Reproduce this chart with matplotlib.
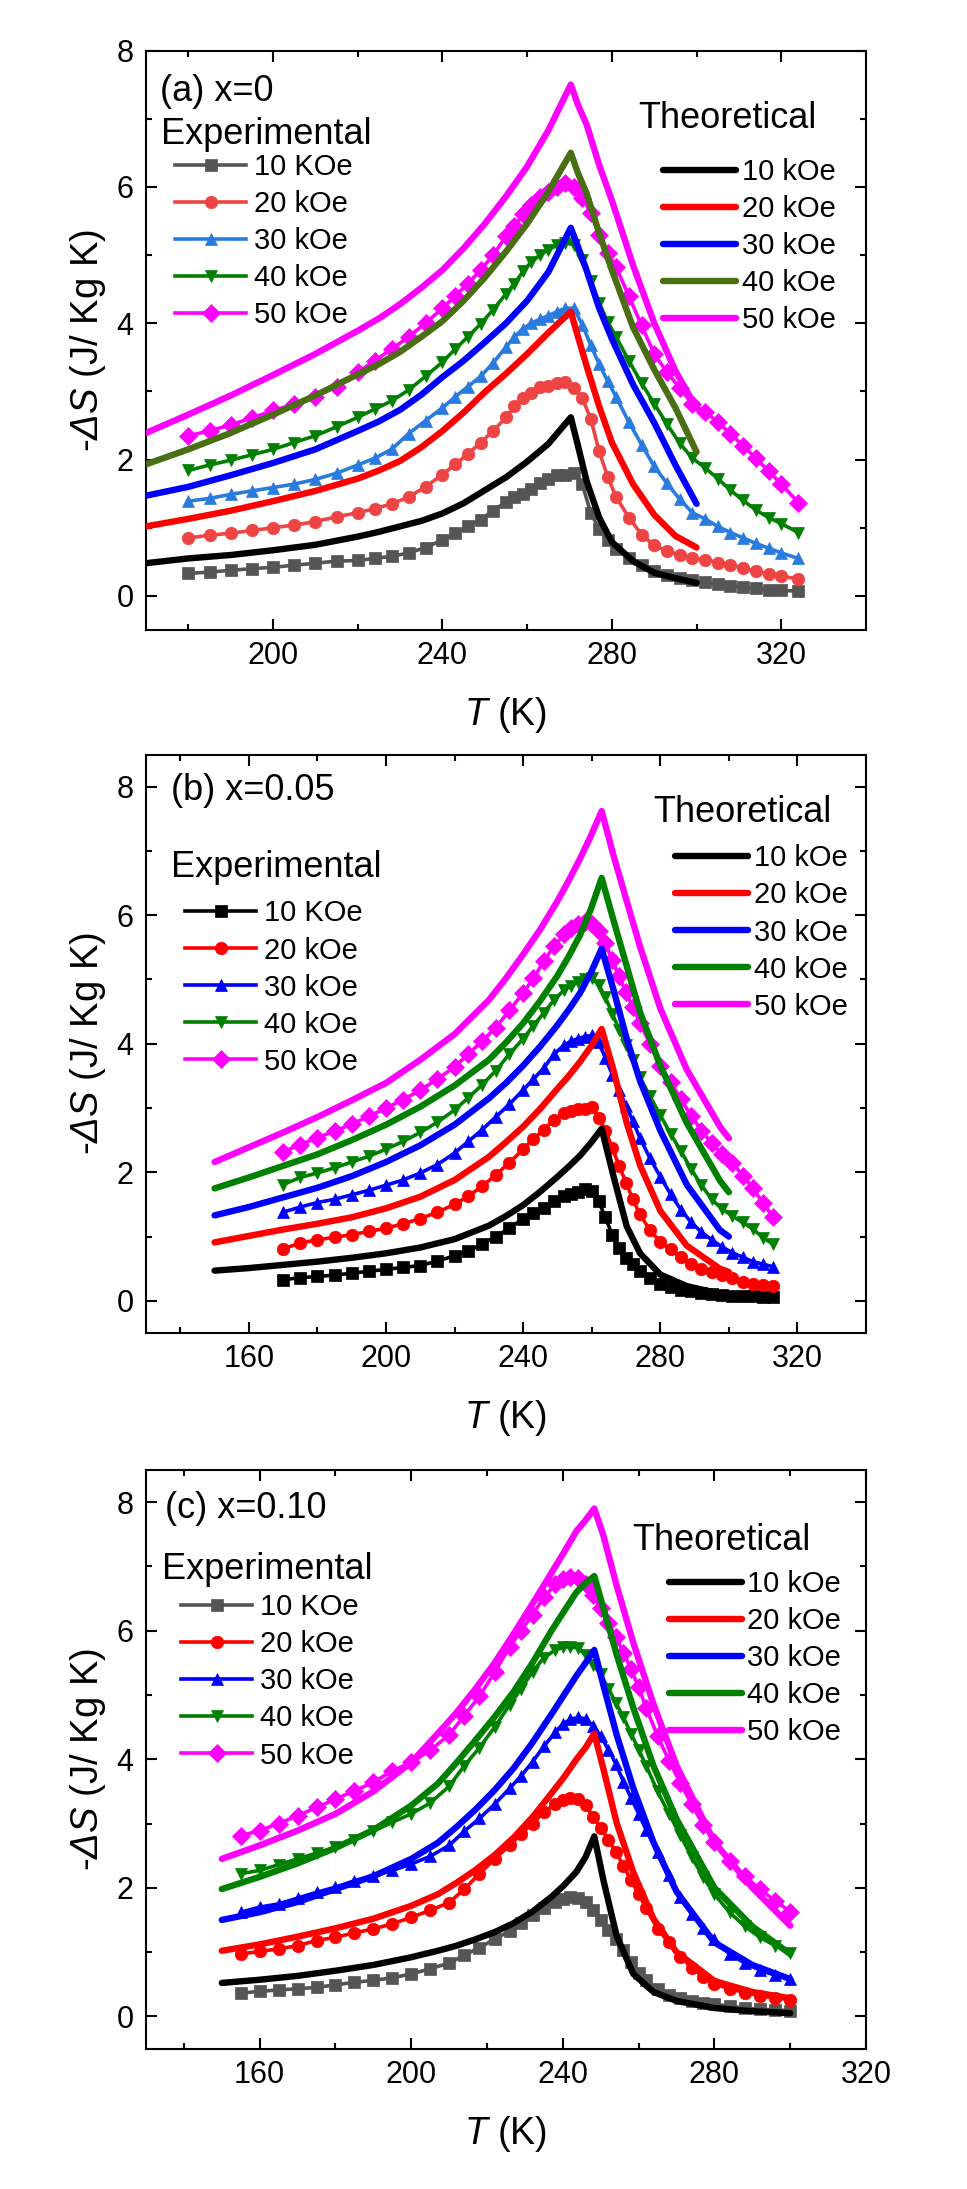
import matplotlib
matplotlib.use('Agg')
import matplotlib.pyplot as plt
from matplotlib.ticker import MultipleLocator

plt.rcParams['font.family'] = ['Liberation Sans', 'DejaVu Sans']
plt.rcParams['mathtext.fontset'] = 'custom'
plt.rcParams['mathtext.rm'] = 'Liberation Sans:italic'
plt.rcParams['mathtext.it'] = 'Liberation Sans:italic'

# ---------------- labels ----------------
exp_labels = ['10 KOe', '20 kOe', '30 kOe', '40 kOe', '50 kOe']
th_labels = ['10 kOe', '20 kOe', '30 kOe', '40 kOe', '50 kOe']
exp_markers = ['s', 'o', '^', 'v', 'D']

# ---------------- panel (a) x=0 ----------------
Ta_exp = [180, 185, 190, 195, 200, 205, 210, 215, 220, 224, 228, 232, 236, 240,
          243, 246, 249, 252, 255, 257, 259, 261, 263, 265, 267, 269, 271, 273,
          275, 277, 279, 281, 284, 287, 290, 293, 296, 299, 302, 305, 308, 311,
          314, 317, 320, 324]
a_e10 = [0.33, 0.35, 0.375, 0.40, 0.42, 0.45, 0.48, 0.51, 0.52, 0.55, 0.58, 0.63, 0.71, 0.82,
         0.92, 1.02, 1.12, 1.25, 1.38, 1.45, 1.50, 1.57, 1.65, 1.72, 1.77, 1.78, 1.80, 1.64,
         1.22, 0.98, 0.82, 0.69, 0.56, 0.46, 0.37, 0.31, 0.27, 0.24, 0.20, 0.17, 0.15, 0.13,
         0.11, 0.09, 0.08, 0.07]
a_e20 = [0.85, 0.89, 0.92, 0.96, 1.00, 1.04, 1.09, 1.16, 1.22, 1.28, 1.35, 1.45, 1.60, 1.78,
         1.93, 2.08, 2.25, 2.42, 2.62, 2.78, 2.90, 2.98, 3.06, 3.08, 3.12, 3.14, 3.05, 2.90,
         2.60, 2.12, 1.75, 1.45, 1.15, 0.90, 0.74, 0.66, 0.60, 0.56, 0.53, 0.49, 0.45, 0.41,
         0.36, 0.32, 0.29, 0.25]
a_e30 = [1.39, 1.43, 1.49, 1.54, 1.59, 1.64, 1.71, 1.80, 1.92, 2.02, 2.15, 2.38, 2.57, 2.76,
         2.92, 3.07, 3.22, 3.42, 3.65, 3.80, 3.92, 4.00, 4.06, 4.11, 4.17, 4.22, 4.22, 3.98,
         3.68, 3.40, 3.15, 2.92, 2.55, 2.22, 1.90, 1.65, 1.42, 1.22, 1.13, 1.02, 0.93, 0.85,
         0.77, 0.70, 0.63, 0.55]
a_e40 = [1.84, 1.92, 1.99, 2.07, 2.15, 2.25, 2.35, 2.48, 2.62, 2.74, 2.86, 3.02, 3.22, 3.43,
         3.62, 3.80, 3.99, 4.20, 4.43, 4.58, 4.76, 4.90, 5.00, 5.08, 5.14, 5.18, 5.15, 4.92,
         4.62, 4.30, 4.02, 3.80, 3.45, 3.12, 2.82, 2.52, 2.24, 2.02, 1.88, 1.72, 1.55, 1.40,
         1.26, 1.15, 1.06, 0.93]
a_e50 = [2.35, 2.42, 2.51, 2.61, 2.72, 2.81, 2.92, 3.07, 3.28, 3.45, 3.62, 3.80, 4.00, 4.22,
         4.40, 4.58, 4.78, 5.00, 5.28, 5.42, 5.60, 5.74, 5.85, 5.93, 6.00, 6.05, 6.00, 5.84,
         5.62, 5.30, 5.03, 4.82, 4.40, 3.97, 3.55, 3.28, 3.05, 2.82, 2.70, 2.55, 2.38, 2.20,
         2.02, 1.83, 1.64, 1.37]

Ta_th = [170, 180, 190, 200, 210, 220, 225, 230, 235, 240, 245, 250, 255, 260, 265, 270.3,
         272, 274, 277, 280, 285, 290, 295, 300]
a_t10 = [0.48, 0.55, 0.60, 0.67, 0.75, 0.87, 0.94, 1.02, 1.10, 1.21, 1.36, 1.55, 1.74, 1.97, 2.23, 2.62,
         2.20, 1.69, 1.15, 0.79, 0.51, 0.34, 0.26, 0.19]
a_t20 = [1.02, 1.13, 1.25, 1.39, 1.54, 1.72, 1.84, 1.98, 2.18, 2.42, 2.69, 2.99, 3.26, 3.55, 3.86, 4.17,
         3.80, 3.38, 2.78, 2.25, 1.64, 1.19, 0.88, 0.71]
a_t30 = [1.47, 1.60, 1.77, 1.95, 2.15, 2.42, 2.56, 2.73, 2.95, 3.21, 3.45, 3.72, 4.00, 4.33, 4.75, 5.40,
         5.12, 4.78, 4.22, 3.77, 3.10, 2.54, 1.92, 1.35]
a_t40 = [1.93, 2.15, 2.39, 2.66, 2.94, 3.25, 3.40, 3.58, 3.80, 4.03, 4.33, 4.67, 5.05, 5.46, 5.93, 6.50,
         6.20, 5.91, 5.32, 4.78, 3.94, 3.32, 2.76, 2.11]
a_t50 = [2.39, 2.66, 2.94, 3.24, 3.55, 3.89, 4.07, 4.28, 4.52, 4.78, 5.10, 5.46, 5.86, 6.30, 6.83, 7.50,
         7.20, 6.92, 6.32, 5.80, 4.85, 4.00, 3.30, 2.75]

# ---------------- panel (b) x=0.05 ----------------
Tb_exp = [170, 175, 180, 185, 190, 195, 200, 205, 210, 215, 220, 224, 228, 232, 236, 240,
          243, 246, 249, 252, 254, 256, 258, 260, 262, 264, 266, 268, 270, 272, 274,
          277, 280, 283, 286, 289, 292, 295, 298, 301, 304, 307, 310, 313]
b_e10 = [0.33, 0.36, 0.38, 0.40, 0.43, 0.46, 0.49, 0.52, 0.55, 0.62, 0.70, 0.78, 0.88, 1.00, 1.13, 1.28,
         1.36, 1.45, 1.56, 1.63, 1.66, 1.70, 1.74, 1.71, 1.55, 1.30, 1.02, 0.82, 0.67, 0.57, 0.47,
         0.35, 0.27, 0.21, 0.17, 0.15, 0.12, 0.10, 0.09, 0.08, 0.07, 0.07, 0.06, 0.06]
b_e20 = [0.81, 0.90, 0.95, 0.99, 1.03, 1.08, 1.13, 1.20, 1.28, 1.38, 1.50, 1.63, 1.78, 1.96, 2.15, 2.36,
         2.52, 2.66, 2.82, 2.92, 2.96, 2.98, 2.99, 3.01, 2.85, 2.65, 2.38, 2.10, 1.84, 1.58, 1.35,
         1.10, 0.92, 0.80, 0.68, 0.58, 0.50, 0.45, 0.40, 0.35, 0.30, 0.27, 0.25, 0.23]
b_e30 = [1.38, 1.46, 1.53, 1.58, 1.65, 1.72, 1.80, 1.88, 1.99, 2.12, 2.30, 2.48, 2.66, 2.86, 3.06, 3.28,
         3.45, 3.62, 3.84, 3.98, 4.04, 4.08, 4.11, 4.13, 4.02, 3.78, 3.52, 3.28, 3.03, 2.80, 2.54,
         2.22, 1.93, 1.66, 1.42, 1.22, 1.07, 0.95, 0.84, 0.75, 0.68, 0.61, 0.57, 0.53]
b_e40 = [1.81, 1.92, 1.99, 2.07, 2.16, 2.25, 2.36, 2.48, 2.62, 2.78, 2.97, 3.16, 3.36, 3.58, 3.84, 4.08,
         4.28, 4.48, 4.68, 4.84, 4.90, 4.96, 5.00, 5.02, 4.92, 4.72, 4.47, 4.22, 3.98, 3.74, 3.49,
         3.18, 2.89, 2.60, 2.33, 2.05, 1.80, 1.58, 1.43, 1.32, 1.22, 1.12, 0.98, 0.88]
b_e50 = [2.32, 2.43, 2.54, 2.64, 2.75, 2.87, 3.00, 3.13, 3.28, 3.45, 3.64, 3.84, 4.04, 4.25, 4.52, 4.79,
         5.02, 5.28, 5.52, 5.70, 5.80, 5.87, 5.90, 5.86, 5.75, 5.56, 5.30, 5.05, 4.80, 4.57, 4.33,
         4.00, 3.66, 3.40, 3.14, 2.88, 2.65, 2.45, 2.28, 2.15, 1.95, 1.75, 1.52, 1.30]

Tb_th = [150, 160, 170, 180, 190, 200, 210, 220, 230, 235, 240, 245, 250, 253.3, 256.6, 259.8,
         262.9, 266.3, 270.2, 274.1, 280, 287.7, 297.4, 300]
b_t10 = [0.47, 0.51, 0.56, 0.61, 0.67, 0.74, 0.83, 0.96, 1.17, 1.32, 1.49, 1.70, 1.93, 2.09, 2.26, 2.46,
         2.68, 1.95, 1.16, 0.74, 0.41, 0.23, 0.11, 0.10]
b_t20 = [0.91, 1.01, 1.11, 1.20, 1.30, 1.44, 1.62, 1.88, 2.24, 2.47, 2.71, 2.99, 3.30, 3.50, 3.72, 3.96,
         4.23, 3.60, 2.77, 2.11, 1.40, 0.86, 0.50, 0.45]
b_t30 = [1.33, 1.46, 1.61, 1.76, 1.94, 2.16, 2.42, 2.74, 3.15, 3.39, 3.66, 3.96, 4.29, 4.53, 4.79, 5.11,
         5.48, 4.85, 4.08, 3.42, 2.65, 1.81, 1.10, 1.00]
b_t40 = [1.75, 1.92, 2.10, 2.28, 2.50, 2.74, 3.02, 3.35, 3.75, 4.02, 4.32, 4.67, 5.06, 5.36, 5.69, 6.10,
         6.58, 5.93, 5.21, 4.49, 3.66, 2.77, 1.87, 1.69]
b_t50 = [2.16, 2.39, 2.62, 2.86, 3.12, 3.39, 3.75, 4.15, 4.68, 5.02, 5.39, 5.78, 6.22, 6.54, 6.88, 7.24,
         7.62, 6.94, 6.22, 5.51, 4.55, 3.60, 2.71, 2.53]

# ---------------- panel (c) x=0.10 ----------------
Tc_exp = [155, 160, 165, 170, 175, 180, 185, 190, 195, 200, 205, 210, 214, 218, 222, 226,
          229, 232, 235, 238, 240, 242, 244, 246, 248, 250, 252, 254, 256, 258, 260, 262,
          265, 268, 271, 274, 277, 280, 284, 288, 292, 296, 300]
c_e10 = [0.36, 0.39, 0.41, 0.43, 0.45, 0.49, 0.53, 0.56, 0.60, 0.66, 0.74, 0.83, 0.95, 1.07, 1.20, 1.33,
         1.45, 1.57, 1.68, 1.78, 1.83, 1.85, 1.84, 1.78, 1.66, 1.50, 1.35, 1.20, 1.03, 0.85, 0.68, 0.56,
         0.42, 0.34, 0.28, 0.24, 0.21, 0.19, 0.16, 0.13, 0.11, 0.10, 0.09]
c_e20 = [0.97, 1.01, 1.05, 1.10, 1.18, 1.23, 1.30, 1.36, 1.44, 1.54, 1.65, 1.77, 1.98, 2.22, 2.45, 2.66,
         2.84, 3.00, 3.18, 3.30, 3.37, 3.40, 3.38, 3.29, 3.10, 2.93, 2.75, 2.56, 2.34, 2.12, 1.90, 1.68,
         1.36, 1.16, 0.93, 0.76, 0.62, 0.50, 0.43, 0.37, 0.32, 0.29, 0.26]
c_e30 = [1.62, 1.70, 1.75, 1.84, 1.93, 2.01, 2.11, 2.19, 2.27, 2.37, 2.49, 2.66, 2.88, 3.08, 3.30, 3.55,
         3.74, 3.96, 4.20, 4.42, 4.55, 4.62, 4.65, 4.63, 4.52, 4.36, 4.15, 3.93, 3.65, 3.40, 3.15, 2.90,
         2.55, 2.20, 1.86, 1.60, 1.38, 1.20, 0.97, 0.83, 0.72, 0.64, 0.58]
c_e40 = [2.22, 2.27, 2.36, 2.45, 2.54, 2.63, 2.74, 2.88, 3.02, 3.15, 3.32, 3.58, 3.90, 4.18, 4.50, 4.85,
         5.10, 5.36, 5.58, 5.70, 5.74, 5.75, 5.73, 5.62, 5.47, 5.32, 5.10, 4.88, 4.65, 4.40, 4.15, 3.90,
         3.50, 3.15, 2.82, 2.48, 2.17, 1.90, 1.62, 1.40, 1.23, 1.10, 0.99]
c_e50 = [2.81, 2.89, 3.00, 3.12, 3.25, 3.38, 3.51, 3.64, 3.82, 3.95, 4.14, 4.38, 4.68, 4.98, 5.35, 5.75,
         6.00, 6.25, 6.52, 6.72, 6.80, 6.83, 6.82, 6.72, 6.55, 6.35, 6.12, 5.90, 5.66, 5.40, 5.12, 4.80,
         4.36, 3.98, 3.63, 3.30, 2.98, 2.71, 2.42, 2.18, 1.98, 1.80, 1.63]

Tc_th = [150, 160, 170, 180, 190, 200, 207, 212, 217, 222, 227, 232, 237, 240.3, 243.6, 246,
         248.3, 250.7, 254.2, 258.6, 263.9, 270, 280, 290, 300]
c_t10 = [0.52, 0.57, 0.63, 0.71, 0.80, 0.92, 1.02, 1.10, 1.20, 1.31, 1.45, 1.63, 1.86, 2.04, 2.25, 2.48,
         2.80, 2.12, 1.25, 0.66, 0.38, 0.24, 0.13, 0.08, 0.05]
c_t20 = [1.02, 1.12, 1.24, 1.37, 1.52, 1.72, 1.90, 2.08, 2.28, 2.51, 2.78, 3.10, 3.47, 3.72, 4.00, 4.18,
         4.40, 3.85, 3.01, 2.24, 1.52, 1.00, 0.55, 0.38, 0.28]
c_t30 = [1.50, 1.62, 1.78, 1.98, 2.18, 2.45, 2.70, 2.95, 3.22, 3.52, 3.86, 4.26, 4.70, 5.00, 5.30, 5.50,
         5.70, 5.15, 4.38, 3.55, 2.71, 1.94, 1.15, 0.80, 0.58]
c_t40 = [1.98, 2.17, 2.38, 2.62, 2.90, 3.28, 3.62, 3.95, 4.30, 4.66, 5.05, 5.50, 6.00, 6.30, 6.60, 6.74,
         6.85, 6.35, 5.63, 4.80, 3.90, 3.07, 2.00, 1.40, 0.97]
c_t50 = [2.45, 2.66, 2.89, 3.15, 3.50, 3.95, 4.40, 4.73, 5.10, 5.50, 5.95, 6.42, 6.90, 7.22, 7.55, 7.72,
         7.90, 7.48, 6.70, 5.81, 4.86, 3.90, 2.71, 2.00, 1.41]

# ---------------- styles ----------------
a_exp_colors = ['#555555', '#EE4444', '#2A7BDE', '#007F00', '#FF00FF']
a_th_colors = ['#000000', '#FF0000', '#0000FF', '#4A6E14', '#FF00FF']
b_exp_colors = ['#000000', '#FF0000', '#0000FF', '#008000', '#FF00FF']
b_th_colors = ['#000000', '#FF0000', '#0000FF', '#008000', '#FF00FF']
c_exp_colors = ['#555555', '#FF0000', '#0000FF', '#008000', '#FF00FF']
c_th_colors = ['#000000', '#FF0000', '#0000FF', '#008000', '#FF00FF']

panels = [
    dict(Te=Ta_exp, exp=[a_e10, a_e20, a_e30, a_e40, a_e50], Tt=Ta_th,
         th=[a_t10, a_t20, a_t30, a_t40, a_t50], ec=a_exp_colors, tc=a_th_colors,
         xlim=(170, 340), ylim=(-0.5, 8), xticks=[200, 240, 280, 320],
         label='(a) x=0', lab_pos=(0.0194, 0.9134), exp_pos=(0.0204, 0.8387),
         th_pos=(0.683, 0.8657), exp_leg=(0.0403, 0.8226), th_leg=(0.718, 0.8144),
         rect=[146 / 967, 1 - 630 / 2189, 720 / 967, 579.5 / 2189]),
    dict(Te=Tb_exp, exp=[b_e10, b_e20, b_e30, b_e40, b_e50], Tt=Tb_th,
         th=[b_t10, b_t20, b_t30, b_t40, b_t50], ec=b_exp_colors, tc=b_th_colors,
         xlim=(130, 340), ylim=(-0.5, 8.5), xticks=[160, 200, 240, 280, 320],
         label='(b) x=0.05', lab_pos=(0.0354, 0.9222), exp_pos=(0.0347, 0.7882),
         th_pos=(0.704, 0.8833), exp_leg=(0.054, 0.7494), th_leg=(0.735, 0.8445),
         rect=[146 / 967, 1 - 1333 / 2189, 720 / 967, 578.5 / 2189]),
    dict(Te=Tc_exp, exp=[c_e10, c_e20, c_e30, c_e40, c_e50], Tt=Tc_th,
         th=[c_t10, c_t20, c_t30, c_t40, c_t50], ec=c_exp_colors, tc=c_th_colors,
         xlim=(130, 320), ylim=(-0.5, 8.5), xticks=[160, 200, 240, 280, 320],
         label='(c) x=0.10', lab_pos=(0.0264, 0.9162), exp_pos=(0.0217, 0.8124),
         th_pos=(0.675, 0.8617), exp_leg=(0.0486, 0.7868), th_leg=(0.726, 0.8266),
         rect=[146 / 967, 1 - 2048.5 / 2189, 720 / 967, 578.5 / 2189]),
]

fig = plt.figure(figsize=(9.67, 21.89), dpi=100)

for p in panels:
    ax = fig.add_axes(p['rect'])
    exp_handles = []
    for ys, c, m, lab in zip(p['exp'], p['ec'], exp_markers, exp_labels):
        h, = ax.plot(p['Te'], ys, color=c, marker=m, ms=9, mec=c, mew=0.5,
                     lw=2.6, zorder=2, label=lab)
        exp_handles.append(h)
    th_handles = []
    for ys, c, lab in zip(p['th'], p['tc'], th_labels):
        h, = ax.plot(p['Tt'], ys, color=c, lw=4.6, solid_capstyle='round',
                     solid_joinstyle='round', zorder=3, label=lab)
        th_handles.append(h)

    ax.set_xlim(*p['xlim'])
    ax.set_ylim(*p['ylim'])
    ax.set_xticks(p['xticks'])
    ax.xaxis.set_minor_locator(MultipleLocator(20))
    ax.yaxis.set_major_locator(MultipleLocator(2))
    ax.yaxis.set_minor_locator(MultipleLocator(1))
    ax.tick_params(which='both', direction='in', top=True, right=True, width=1.5)
    ax.tick_params(which='major', length=8, labelsize=22)
    ax.tick_params(which='minor', length=4)
    ax.tick_params(axis='x', which='major', pad=8)
    ax.tick_params(axis='y', which='major', pad=9)
    for s in ax.spines.values():
        s.set_linewidth(1.5)

    ax.set_xlabel(r'$T$ (K)', fontsize=27)
    ax.set_ylabel(r'-$\Delta S$ (J/ Kg K)', fontsize=27.5)
    ax.xaxis.set_label_coords(0.5, -0.113)
    ax.yaxis.set_label_coords(-0.053, 0.5)

    ax.text(p['lab_pos'][0], p['lab_pos'][1], p['label'], transform=ax.transAxes,
            fontsize=26, ha='left', va='baseline')
    ax.text(p['exp_pos'][0], p['exp_pos'][1], 'Experimental', transform=ax.transAxes,
            fontsize=26, ha='left', va='baseline')
    ax.text(p['th_pos'][0], p['th_pos'][1], 'Theoretical', transform=ax.transAxes,
            fontsize=26, ha='left', va='baseline')

    leg1 = ax.legend(exp_handles, exp_labels, loc='upper left', bbox_to_anchor=p['exp_leg'],
                     frameon=False, fontsize=21, handlelength=2.45, handletextpad=0.25,
                     labelspacing=0.31, borderpad=0, borderaxespad=0)
    ax.add_artist(leg1)
    ax.legend(th_handles, th_labels, loc='upper left', bbox_to_anchor=p['th_leg'],
              frameon=False, fontsize=21, handlelength=2.5, handletextpad=0.2,
              labelspacing=0.31, borderpad=0, borderaxespad=0)

fig.savefig('out.png', dpi=100)
